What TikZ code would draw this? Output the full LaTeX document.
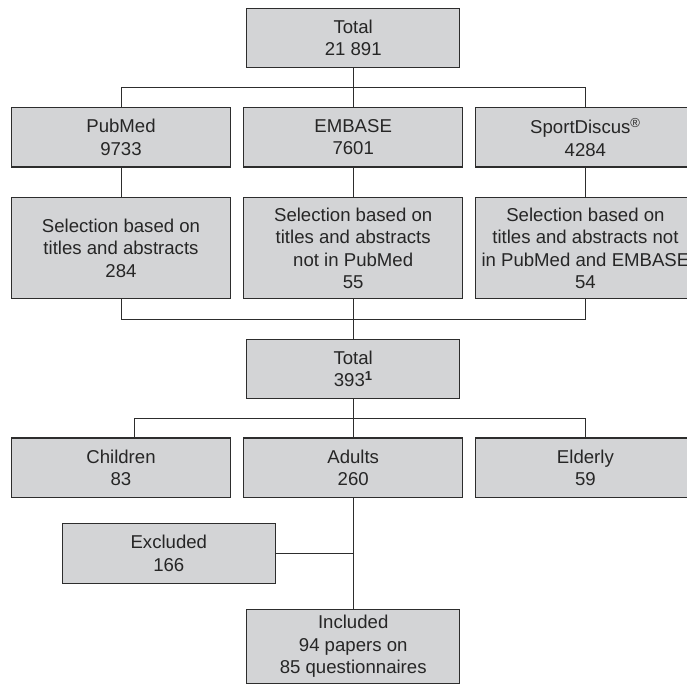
\documentclass[tikz,border=0pt]{standalone}
\usepackage{fontspec}
\setmainfont{Liberation Sans}
\usetikzlibrary{positioning, calc}
\definecolor{boxgray}{RGB}{211,212,214}
\definecolor{edgegray}{RGB}{45,45,45}
\tikzstyle{box} = [rectangle, minimum width=213pt, minimum height=59.5pt, inner sep=0pt, align=center, draw=edgegray, line width=1.1pt, fill=boxgray, text=black!85, font=\fontsize{18.6}{22.5}\selectfont]
\tikzstyle{wide} = [minimum width=219pt]
\tikzstyle{tall} = [minimum height=101pt]
\tikzstyle{link} = [edgegray, line width=0.8pt]

\begin{document}
\begin{tikzpicture}[x=1pt, y=-1pt, node distance=232.2pt]
    \useasboundingbox (0,0) rectangle (687,684);
    \node (total) [box] at (353.2,38) {Total\\21 891};
    \node (embase) [box, wide, below of=total, node distance=99.3pt] {EMBASE\\7601};
    \node (pubmed) [box, wide, left of=embase] {PubMed\\9733};
    \node (sport) [box, wide, right of=embase] {SportDiscus\textsuperscript{®}\\4284};
    \node (selembase) [box, wide, tall, below of=embase, node distance=110.9pt] {Selection based on\\titles and abstracts\\not in PubMed\\55};
    \node (selpubmed) [box, wide, tall, left of=selembase] {Selection based on\\titles and abstracts\\284};
    \node (selsport) [box, wide, tall, right of=selembase] {Selection based on\\titles and abstracts not\\in PubMed and EMBASE\\54};
    \node (subtotal) [box, below of=selembase, node distance=120.7pt] {Total\\393\textsuperscript{\textbf{1}}};
    \node (adults) [box, wide, below of=subtotal, node distance=98.8pt] {Adults\\260};
    \node (children) [box, wide, left of=adults] {Children\\83};
    \node (elderly) [box, wide, right of=adults] {Elderly\\59};
    \node (included) [box, minimum height=73.8pt, below of=adults, node distance=178.5pt] {Included\\94 papers on\\85 questionnaires};
    \node (excluded) [box, below of=adults, node distance=85.8pt, xshift=-184.4pt] {Excluded\\166};

    \coordinate (split1) at ($(total.south)!0.5!(embase.north)$);
    \coordinate (split2) at ($(selembase.south)!0.5!(subtotal.north)$);
    \coordinate (split3) at ($(subtotal.south)!0.5!(adults.north)$);

    \draw [link] (total) -- (embase);
    \draw [link] (pubmed.north) |- (split1) -| (sport.north);
    \draw [link] (pubmed) -- (selpubmed);
    \draw [link] (embase) -- (selembase);
    \draw [link] (sport) -- (selsport);
    \draw [link] (selpubmed.south) |- (split2) -| (selsport.south);
    \draw [link] (selembase) -- (subtotal);
    \draw [link] (subtotal) -- (adults);
    \draw [link] ([xshift=13.3pt]children.north) |- (split3) -| (elderly.north);
    \draw [link] (adults) -- (included);
    \draw [link] (excluded.east) -- (excluded.east -| adults.south);
\end{tikzpicture}
\end{document}
